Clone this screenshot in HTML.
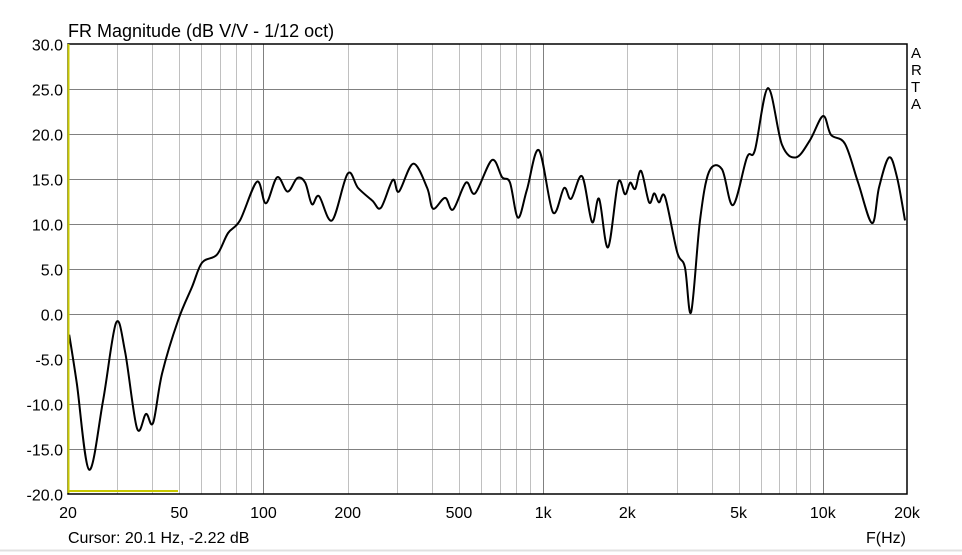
<!DOCTYPE html>
<html><head><meta charset="utf-8"><style>
html,body{margin:0;padding:0;background:#fff;}
svg{display:block;font-family:"Liberation Sans",sans-serif;}
</style></head><body>
<svg id="chart" width="962" height="555" viewBox="0 0 962 555">
<rect x="0" y="0" width="962" height="555" fill="#fff"/>
<line x1="0" y1="550.5" x2="962" y2="550.5" stroke="#e0e0e0" stroke-width="2"/>
<g id="grid"></g>
<g id="labels"></g>
<text x="68" y="37" font-size="18" fill="#000">FR Magnitude (dB V/V - 1/12 oct)</text>
<g font-size="15" fill="#000">
<text x="911" y="58">A</text><text x="911" y="75">R</text><text x="911" y="92">T</text><text x="911" y="109">A</text>
</g>
<text x="68" y="543" font-size="16" fill="#000">Cursor: 20.1 Hz, -2.22 dB</text>
<text x="866" y="543" font-size="16" fill="#000">F(Hz)</text>
<g id="series"></g>
<rect x="68" y="44" width="839" height="450" fill="none" stroke="#000" stroke-width="1.5"/>
<line x1="68.5" y1="44" x2="68.5" y2="493" stroke="#c8c800" stroke-width="2"/>
<line x1="68" y1="491" x2="178" y2="491" stroke="#c8c800" stroke-width="2"/>
</svg>
<script>
const freqs=[20.2,21.5,23.8,26.7,29.7,32.0,35.3,38.0,40.3,43.4,49.5,55.5,60.3,68.2,74.7,82.4,94.8,102,112,122,132,141,149,158,176,200,218,245,263,290,305,343,385,404,446,476,530,571,656,713,761,813,875,966,1084,1188,1259,1378,1496,1585,1706,1854,1963,2047,2133,2240,2393,2495,2595,2729,3013,3214,3380,3638,3918,4357,4775,5357,5719,6369,7146,8017,8995,10020,10700,12000,13370,15000,15890,17260,18420,19680];
const dbValues=[-2.3,-7.7,-17.3,-9.6,-1.0,-4.2,-12.7,-11.1,-12.1,-6.6,-0.7,3.0,5.7,6.6,9.0,10.4,14.7,12.3,15.2,13.6,15.1,14.6,12.2,13.1,10.4,15.6,14.0,12.6,11.8,14.9,13.6,16.7,14.0,11.7,12.9,11.6,14.6,13.4,17.1,15.2,14.6,10.7,13.8,18.2,11.3,14.0,12.8,15.3,10.2,12.8,7.4,14.6,13.3,14.6,13.9,15.9,12.4,13.4,12.4,13.0,6.9,5.2,0.2,10.4,15.8,16.1,12.1,17.4,18.2,25.1,18.8,17.4,19.3,22.0,19.9,18.9,14.6,10.1,14.1,17.4,15.2,10.4];
const yTicks=[30,25,20,15,10,5,0,-5,-10,-15,-20];
const xTickVals=[20,50,100,200,500,1000,2000,5000,10000,20000];
const xTickLabels=["20","50","100","200","500","1k","2k","5k","10k","20k"];
const X0=68,X1=907,Y0=44,Y1=494,FMIN=20,FMAX=20000,DMIN=-20,DMAX=30;
const NS="http://www.w3.org/2000/svg";
function xs(f){return X0+(X1-X0)*Math.log10(f/FMIN)/Math.log10(FMAX/FMIN);}
function ys(d){return Y1-(Y1-Y0)*(d-DMIN)/(DMAX-DMIN);}
function mk(t,a,p){const e=document.createElementNS(NS,t);for(const k in a)e.setAttribute(k,a[k]);p.appendChild(e);return e;}
const grid=document.getElementById('grid'),labels=document.getElementById('labels'),series=document.getElementById('series');
for(let dec=10;dec<=10000;dec*=10){for(let m=1;m<10;m++){const f=dec*m;if(f<=FMIN||f>=FMAX)continue;const x=Math.round(xs(f))+0.5;const major=(m===1);
const l=mk('line',{x1:x,y1:Y0,x2:x,y2:Y1,stroke:major?'#808080':'#c0c0c0','stroke-width':1},grid);

}}
yTicks.forEach(v=>{const y=Math.round(ys(v))+0.5;
if(v!==DMAX&&v!==DMIN){const l=mk('line',{x1:X0,y1:y,x2:X1,y2:y,stroke:'#808080','stroke-width':1},grid);

}
const t=mk('text',{x:X0-5,y:y+6,'text-anchor':'end','font-size':16,fill:'#000'},labels);t.textContent=v.toFixed(1);

});
xTickVals.forEach((f,i)=>{const t=mk('text',{x:xs(f),y:518,'text-anchor':'middle','font-size':16,fill:'#000'},labels);t.textContent=xTickLabels[i];

});
const pts=freqs.map((f,i)=>[xs(f),ys(dbValues[i])]);
let d='M'+pts[0][0].toFixed(1)+','+pts[0][1].toFixed(1);
for(let i=0;i<pts.length-1;i++){const p0=pts[Math.max(0,i-1)],p1=pts[i],p2=pts[i+1],p3=pts[Math.min(pts.length-1,i+2)];
const c1=[p1[0]+(p2[0]-p0[0])/6,p1[1]+(p2[1]-p0[1])/6],c2=[p2[0]-(p3[0]-p1[0])/6,p2[1]-(p3[1]-p1[1])/6];
d+=' C'+c1[0].toFixed(1)+','+c1[1].toFixed(1)+' '+c2[0].toFixed(1)+','+c2[1].toFixed(1)+' '+p2[0].toFixed(1)+','+p2[1].toFixed(1);}
const path=mk('path',{d:d,fill:'none',stroke:'#000','stroke-width':2,'stroke-linejoin':'round'},series);


</script>
</body></html>
